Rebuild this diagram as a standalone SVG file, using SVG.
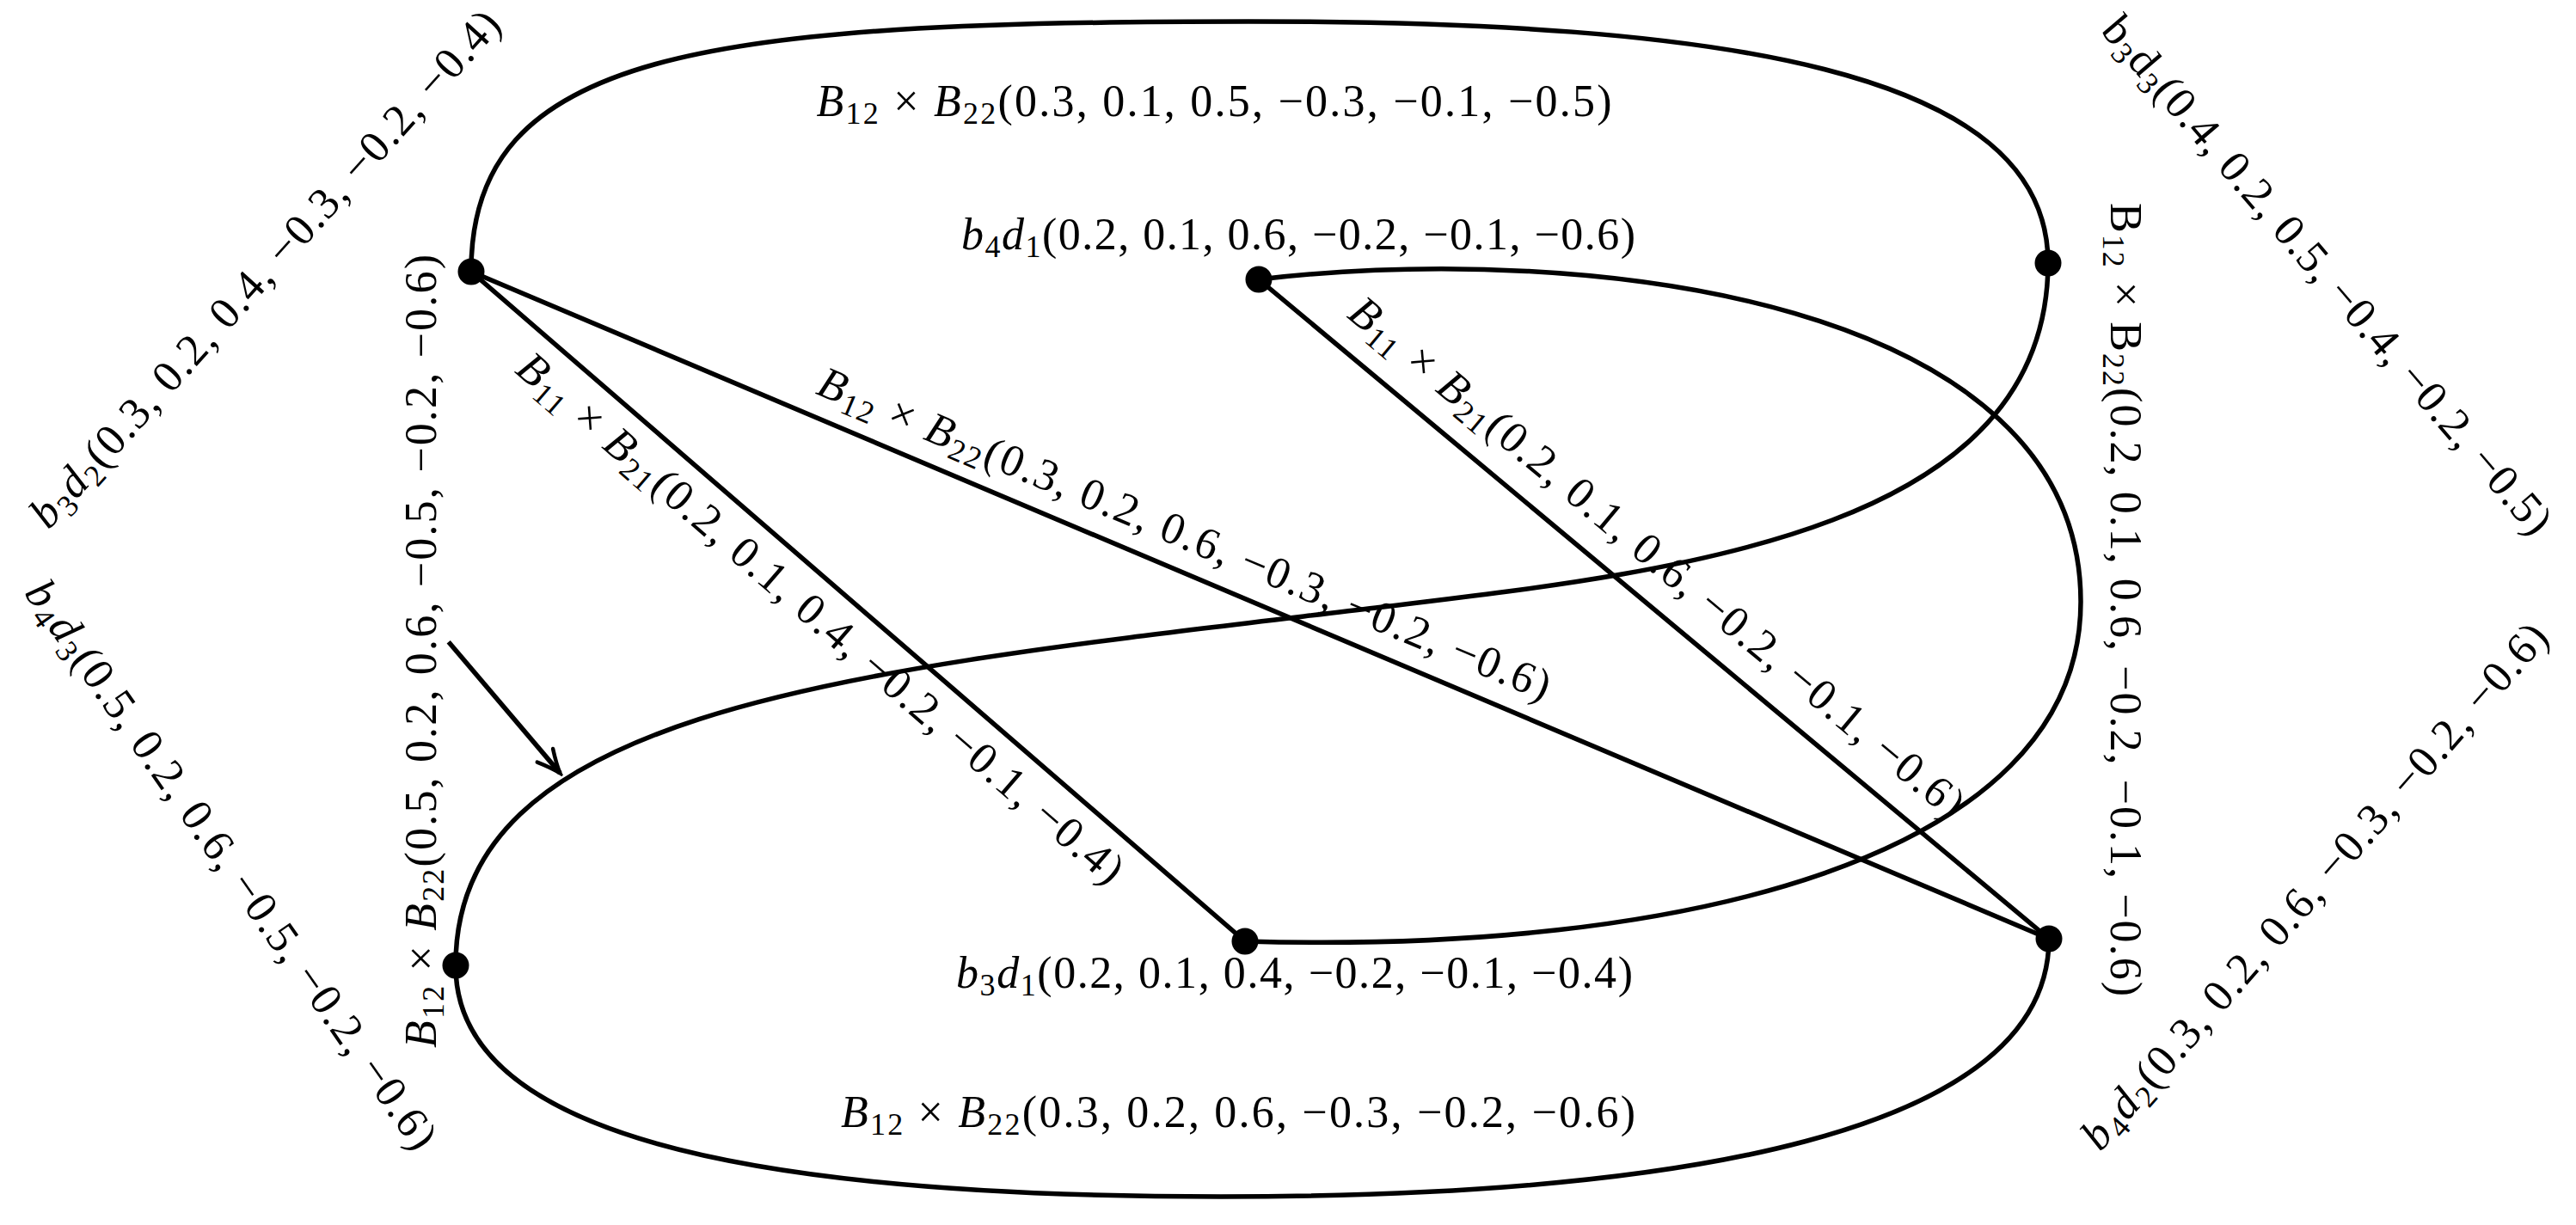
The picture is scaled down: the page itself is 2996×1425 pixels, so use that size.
<svg xmlns="http://www.w3.org/2000/svg" width="2996" height="1425" viewBox="0 0 2996 1425">
<style>
.e{fill:none;stroke:#000;stroke-width:5.5;stroke-linecap:round}
.n{fill:#000}
text{font-family:"Liberation Serif","Times New Roman",serif;font-size:52px;fill:#000}
.i{font-style:italic}
.s{font-size:36px}
</style>
<defs>
<marker id="ar" markerUnits="userSpaceOnUse" viewBox="-34 -17 38 34" markerWidth="38" markerHeight="34" refX="0" refY="0" orient="auto">
<path d="M-27,-12 Q-10,-3 0,0 Q-10,3 -27,12" fill="none" stroke="#000" stroke-width="4.5" stroke-linecap="round"/>
</marker>
</defs>
<rect width="2996" height="1425" fill="#fff"/>
<g id="connectors">
<path id="e-A-C" class="e" d="M548,316 C547,60 820,25 1452,25 C2000,25 2382,80 2382,306"/>
<path id="e-D-F" class="e" d="M530,1123 C529,1300 800,1392 1420,1392 C1950,1392 2383,1320 2383,1092"/>
<path id="e-A-F" class="e" d="M548,316 L2383,1092"/>
<path id="e-A-E" class="e" d="M548,316 L1448,1095"/>
<path id="e-B-F" class="e" d="M1464,325 L2383,1092"/>
<path id="e-B-E" class="e" d="M1464,325 C1850,280 2420,350 2420,700 C2420,1000 1950,1110 1448,1095"/>
<path id="e-C-D" class="e" d="M2382,306 C2381,620 1950,665 1600,707 C1000,779 529,820 530,1123"/>
<line id="pointer" x1="521.7" y1="746.7" x2="651.4" y2="899.4" stroke="#000" stroke-width="5.5" marker-end="url(#ar)"/>
<g id="edge-labels">
<text x="1412" y="135" text-anchor="middle" textLength="925"><tspan class="i">B</tspan><tspan class="s" dy="9">12</tspan><tspan dy="-9"> × </tspan><tspan class="i">B</tspan><tspan class="s" dy="9">22</tspan><tspan dy="-9">(0.3, 0.1, 0.5, −0.3, −0.1, −0.5)</tspan></text>
<text x="1440" y="1311" text-anchor="middle" textLength="924"><tspan class="i">B</tspan><tspan class="s" dy="9">12</tspan><tspan dy="-9"> × </tspan><tspan class="i">B</tspan><tspan class="s" dy="9">22</tspan><tspan dy="-9">(0.3, 0.2, 0.6, −0.3, −0.2, −0.6)</tspan></text>
<text transform="translate(1361.5,659.6) rotate(22.92)" x="0" y="-25" text-anchor="middle" textLength="920"><tspan class="i">B</tspan><tspan class="s" dy="9">12</tspan><tspan dy="-9"> × </tspan><tspan class="i">B</tspan><tspan class="s" dy="9">22</tspan><tspan dy="-9">(0.3, 0.2, 0.6, −0.3, −0.2, −0.6)</tspan></text>
<text transform="translate(980,689.5) rotate(40.87)" x="0" y="56" text-anchor="middle" textLength="915"><tspan class="i">B</tspan><tspan class="s" dy="9">11</tspan><tspan dy="-9"> × </tspan><tspan class="i">B</tspan><tspan class="s" dy="9">21</tspan><tspan dy="-9">(0.2, 0.1, 0.4, −0.2, −0.1, −0.4)</tspan></text>
<text transform="translate(1896,686) rotate(39.85)" x="0" y="-32" text-anchor="middle" textLength="915"><tspan class="i">B</tspan><tspan class="s" dy="9">11</tspan><tspan dy="-9"> × </tspan><tspan class="i">B</tspan><tspan class="s" dy="9">21</tspan><tspan dy="-9">(0.2, 0.1, 0.6, −0.2, −0.1, −0.6)</tspan></text>
<text transform="translate(2455,697.5) rotate(90)" x="0" y="0" text-anchor="middle" textLength="923">B<tspan class="s" dy="9">12</tspan><tspan dy="-9"> × B</tspan><tspan class="s" dy="9">22</tspan><tspan dy="-9">(0.2, 0.1, 0.6, −0.2, −0.1, −0.6)</tspan></text>
<text transform="translate(507,757.5) rotate(-90)" x="0" y="0" text-anchor="middle" textLength="923"><tspan class="i">B</tspan><tspan class="s" dy="9">12</tspan><tspan dy="-9"> × </tspan><tspan class="i">B</tspan><tspan class="s" dy="9">22</tspan><tspan dy="-9">(0.5, 0.2, 0.6, −0.5, −0.2, −0.6)</tspan></text>
</g>
</g>
<g id="node-A">
<circle class="n" cx="548" cy="316" r="15.5"/>
<text transform="translate(320.8,323.8) rotate(-48)" x="0" y="0" text-anchor="middle" textLength="790"><tspan class="i">b</tspan><tspan class="s" dy="9">3</tspan><tspan class="i" dy="-9">d</tspan><tspan class="s" dy="9">2</tspan><tspan dy="-9">(0.3, 0.2, 0.4, −0.3, −0.2, −0.4)</tspan></text>
</g>
<g id="node-B">
<circle class="n" cx="1464" cy="325" r="15.5"/>
<text x="1510" y="290" text-anchor="middle" textLength="784"><tspan class="i">b</tspan><tspan class="s" dy="9">4</tspan><tspan class="i" dy="-9">d</tspan><tspan class="s" dy="9">1</tspan><tspan dy="-9">(0.2, 0.1, 0.6, −0.2, −0.1, −0.6)</tspan></text>
</g>
<g id="node-C">
<circle class="n" cx="2382" cy="306" r="15.5"/>
<text transform="translate(2694,331) rotate(49.5)" x="0" y="0" text-anchor="middle" textLength="775">b<tspan class="s" dy="9">3</tspan><tspan dy="-9">d</tspan><tspan class="s" dy="9">3</tspan><tspan dy="-9">(0.4, 0.2, 0.5, −0.4, −0.2, −0.5)</tspan></text>
</g>
<g id="node-D">
<circle class="n" cx="530" cy="1123" r="15.5"/>
<text transform="translate(255.2,1015.6) rotate(55)" x="0" y="0" text-anchor="middle" textLength="795"><tspan class="i">b</tspan><tspan class="s" dy="9">4</tspan><tspan class="i" dy="-9">d</tspan><tspan class="s" dy="9">3</tspan><tspan dy="-9">(0.5, 0.2, 0.6, −0.5, −0.2, −0.6)</tspan></text>
</g>
<g id="node-E">
<circle class="n" cx="1448" cy="1095" r="15.5"/>
<text x="1505.5" y="1149" text-anchor="middle" textLength="787"><tspan class="i">b</tspan><tspan class="s" dy="9">3</tspan><tspan class="i" dy="-9">d</tspan><tspan class="s" dy="9">1</tspan><tspan dy="-9">(0.2, 0.1, 0.4, −0.2, −0.1, −0.4)</tspan></text>
</g>
<g id="node-F">
<circle class="n" cx="2383" cy="1092" r="15.5"/>
<text transform="translate(2704.7,1041.7) rotate(-48.8)" x="0" y="0" text-anchor="middle" textLength="795"><tspan class="i">b</tspan><tspan class="s" dy="9">4</tspan><tspan class="i" dy="-9">d</tspan><tspan class="s" dy="9">2</tspan><tspan dy="-9">(0.3, 0.2, 0.6, −0.3, −0.2, −0.6)</tspan></text>
</g>
</svg>
